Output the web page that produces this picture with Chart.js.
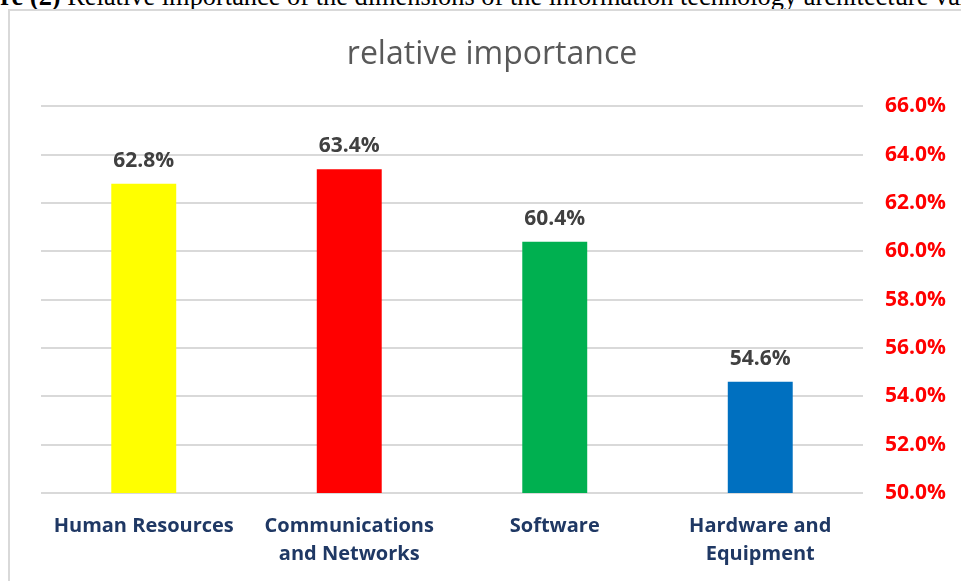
<!DOCTYPE html>
<html>
<head>
<meta charset="utf-8">
<script src="https://cdn.jsdelivr.net/npm/chart.js@4"></script>
<style>
  html, body { margin: 0; padding: 0; background: #fff; overflow: hidden; }
  #caption {
    position: absolute; left: -51px; top: -19px; white-space: nowrap;
    font-family: "Liberation Serif", serif; font-size: 26.4px; color: #000;
  }
  #box {
    position: absolute; left: 8px; top: 9px; width: 970px; height: 600px;
    border: 2px solid #d9d9d9; background: #fff;
  }
  canvas { position: absolute; left: 0; top: 0; }
</style>
</head>
<body>
<div id="caption"><b>Figure (2)</b> Relative importance of the dimensions of the information technology architecture values</div>
<div id="box"><canvas id="chart" width="951" height="583"></canvas></div>
<script>
// chart data
const categories = [['Human Resources'], ['Communications', 'and Networks'], ['Software'], ['Hardware and', 'Equipment']];
const importance = [62.8, 63.4, 60.4, 54.6];
const barColors = ['#ffff00', '#ff0000', '#00b050', '#0070c0'];
const yTicks = [50, 52, 54, 56, 58, 60, 62, 64, 66];

const FONT = '"Open Sans", "Liberation Sans", sans-serif';

// value labels above the bars
const valueLabels = {
  id: 'valueLabels',
  afterLayout(chart) {
    // nudge the title a little left, like the original
    const t = chart.titleBlock;
    if (t) { t.left -= 9; t.right -= 9; }
  },
  afterDatasetsDraw(chart) {
    const ctx = chart.ctx;
    const meta = chart.getDatasetMeta(0);
    ctx.save();
    ctx.font = 'bold 21px ' + FONT;
    ctx.fillStyle = '#404040';
    ctx.textAlign = 'center';
    ctx.textBaseline = 'middle';
    meta.data.forEach((bar, i) => {
      ctx.fillText(importance[i].toFixed(1) + '%', bar.x, bar.y - 23);
    });
    ctx.restore();
  }
};

const ctx = document.getElementById('chart').getContext('2d');
new Chart(ctx, {
  type: 'bar',
  data: {
    labels: categories,
    datasets: [{
      label: 'relative importance',
      data: importance,
      backgroundColor: barColors,
      borderWidth: 0,
      categoryPercentage: 1,
      barPercentage: 0.316
    }]
  },
  options: {
    responsive: false,
    animation: false,
    layout: { padding: { left: 31, right: 0, top: 0, bottom: 15 } },
    plugins: {
      legend: { display: false },
      tooltip: { enabled: false },
      title: {
        display: true,
        text: 'relative importance',
        color: '#595959',
        font: { family: FONT, size: 32, weight: 'normal' },
        padding: { top: 25, bottom: 32 }
      }
    },
    scales: {
      x: {
        grid: { display: false },
        border: { display: false },
        ticks: {
          color: '#1f3864',
          font: { family: FONT, size: 20, weight: 'bold', lineHeight: 1.4 },
          padding: 11,
          maxRotation: 0
        }
      },
      y: {
        position: 'right',
        min: 50,
        max: 66,
        afterBuildTicks: s => { s.ticks = yTicks.map(v => ({ value: v })); },
        afterFit: s => { s.width = 98; },
        grid: { color: '#d9d9d9', lineWidth: 2, drawTicks: false },
        border: { display: false },
        ticks: {
          color: '#ff0000',
          font: { family: FONT, size: 21, weight: 'bold' },
          padding: 22,
          callback: v => v.toFixed(1) + '%'
        }
      }
    }
  },
  plugins: [valueLabels]
});
</script>
</body>
</html>
